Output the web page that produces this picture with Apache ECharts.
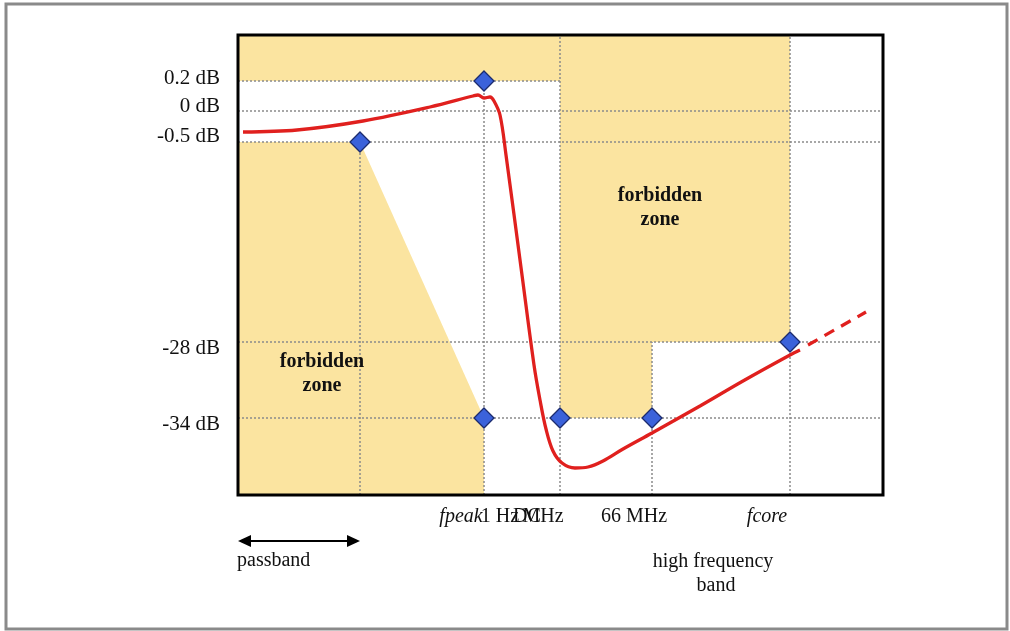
<!DOCTYPE html>
<html>
<head>
<meta charset="utf-8">
<script src="https://cdn.jsdelivr.net/npm/echarts@6/dist/echarts.min.js"></script>
<style>
html, body { margin: 0; padding: 0; background: #fff; }
#chart { width: 1010px; height: 631px; }
</style>
</head>
<body>
<div id="chart"></div>
<script>
// schematic units: x from plot left, y from plot bottom
var responseCurve = [[5,363],[59,365],[125,374],[192,388],[235,399],[240,400],[246,397],[252,398],[256,394],
	[262,380],[268,340],[284,220],[296,130],[302,95],[308,66],[315,44],[324,32],[337,27],[350,28],
	[365,34],[385,46],[414,62],[462,89],[505,114],[552,140],[562,145]];
var extrapolated = [[570,150],[628,183]];
var corners = [[122,353],[246,414],[246,77],[322,77],[414,77],[552,153]];

var zonePolygons = [
	[[0,460],[552,460],[552,153],[414,153],[414,77],[322,77],[322,414],[0,414]],
	[[0,353],[122,353],[246,77],[246,0],[0,0]]
];
var zoneLabels = [[422,287],[84,121]];

// [y, x1, x2] and [x, y1, y2]
var hGrid = [[414,0,322],[384,0,645],[353,0,645],[153,0,645],[77,0,645]];
var vGrid = [[122,0,353],[246,0,414],[322,0,460],[414,0,153],[552,0,460]];

var yTickPos = [417, 389, 359, 147, 71];
var yTickLabels = ['0.2 dB', '0 dB', '-0.5 dB', '-28 dB', '-34 dB'];
var xTickPos = [223, 262, 289, 305, 396, 529];
var xTickLabels = ['fpeak', '1 Hz', 'DC', 'MHz', '66 MHz', 'fcore'];
var xTickItalic = [true, false, false, false, false, true];

var passbandRange = [0, 122];
var hfBandCenter = 475;

var serif = '"Liberation Serif", "DejaVu Serif", serif';
var colors = {
	zone: '#fbe4a0',
	grid: '#8a8a8a',
	curve: '#e0201e',
	marker: '#3b62da',
	markerBorder: '#1b2b6e'
};

var chart = echarts.init(document.getElementById('chart'));

var gridLines = [];
hGrid.forEach(function (g) { gridLines.push([{ coord: [g[1], g[0]] }, { coord: [g[2], g[0]] }]); });
vGrid.forEach(function (g) { gridLines.push([{ coord: [g[0], g[1]] }, { coord: [g[0], g[2]] }]); });

var option = {
	animation: false,
	grid: {
		left: 238, top: 35, width: 645, height: 460,
		show: true, borderColor: '#000', borderWidth: 3, backgroundColor: 'transparent', z: 10
	},
	xAxis: {
		type: 'value', min: 0, max: 645,
		axisLine: { show: false }, axisTick: { show: false }, splitLine: { show: false },
		axisLabel: { show: false }
	},
	yAxis: {
		type: 'value', min: 0, max: 460,
		axisLine: { show: false }, axisTick: { show: false }, splitLine: { show: false },
		axisLabel: {
			customValues: yTickPos,
			margin: 18,
			fontFamily: serif, fontSize: 21, color: '#111',
			formatter: function (v) { return yTickLabels[yTickPos.indexOf(v)]; }
		}
	},
	series: [
		{
			type: 'custom',
			z: 1,
			silent: true,
			data: zonePolygons.map(function (p, i) { return [i, 0]; }),
			renderItem: function (params, api) {
				var poly = zonePolygons[params.dataIndex];
				return {
					type: 'polygon',
					shape: { points: poly.map(function (p) { return api.coord(p); }) },
					style: { fill: colors.zone }
				};
			}
		},
		{
			type: 'line',
			z: 2,
			data: [],
			markLine: {
				silent: true,
				z: 2,
				symbol: 'none',
				label: { show: false },
				lineStyle: { color: colors.grid, width: 1.5, type: [2, 2] },
				data: gridLines
			}
		},
		{
			type: 'line',
			z: 5,
			data: responseCurve,
			smooth: 0.35,
			showSymbol: false,
			lineStyle: { color: colors.curve, width: 3.3 }
		},
		{
			type: 'line',
			z: 5,
			data: extrapolated,
			showSymbol: false,
			lineStyle: { color: colors.curve, width: 3.3, type: [11, 8] }
		},
		{
			type: 'scatter',
			z: 20,
			data: corners,
			symbol: 'diamond',
			symbolSize: [20, 20],
			itemStyle: { color: colors.marker, borderColor: colors.markerBorder, borderWidth: 1.3, opacity: 1 }
		},
		{
			type: 'scatter',
			z: 20,
			data: zoneLabels,
			symbolSize: 0,
			itemStyle: { opacity: 1 },
			label: {
				show: true,
				position: 'inside',
				formatter: 'forbidden\nzone',
				fontFamily: serif, fontWeight: 'bold', fontSize: 20, lineHeight: 24, color: '#111', align: 'center'
			}
		}
	]
};

chart.setOption(option);

// annotations below the plot
function px(x) { return chart.convertToPixel({ gridIndex: 0 }, [x, 0])[0]; }
var pbL = px(passbandRange[0]);
var pbR = px(passbandRange[1]);
var hfX = px(hfBandCenter);
var arrowY = 541;

var graphics = [
	{ type: 'rect', shape: { x: 6, y: 4, width: 1001, height: 625 }, style: { fill: 'none', stroke: '#8a8a8a', lineWidth: 3 } },
	{ type: 'line', shape: { x1: pbL + 8, y1: arrowY, x2: pbR - 8, y2: arrowY }, style: { stroke: '#000', lineWidth: 2 } },
	{ type: 'polygon', shape: { points: [[pbL, arrowY], [pbL + 13, arrowY - 6], [pbL + 13, arrowY + 6]] }, style: { fill: '#000' } },
	{ type: 'polygon', shape: { points: [[pbR, arrowY], [pbR - 13, arrowY - 6], [pbR - 13, arrowY + 6]] }, style: { fill: '#000' } },
	{ type: 'text', x: pbL - 1, y: 561, style: { text: 'passband', font: '20px ' + serif, fill: '#111', textVerticalAlign: 'middle' } },
	{ type: 'text', x: hfX, y: 562, style: { text: 'high frequency', font: '20px ' + serif, fill: '#111', textAlign: 'center', textVerticalAlign: 'middle' } },
	{ type: 'text', x: hfX + 3, y: 586, style: { text: 'band', font: '20px ' + serif, fill: '#111', textAlign: 'center', textVerticalAlign: 'middle' } }
];
xTickPos.forEach(function (v, i) {
	graphics.push({
		type: 'text', x: px(v), y: 517,
		style: {
			text: xTickLabels[i],
			font: (xTickItalic[i] ? 'italic ' : '') + '20px ' + serif,
			fill: '#111', textAlign: 'center', textVerticalAlign: 'middle'
		}
	});
});

chart.setOption({ graphic: graphics });
</script>
</body>
</html>
